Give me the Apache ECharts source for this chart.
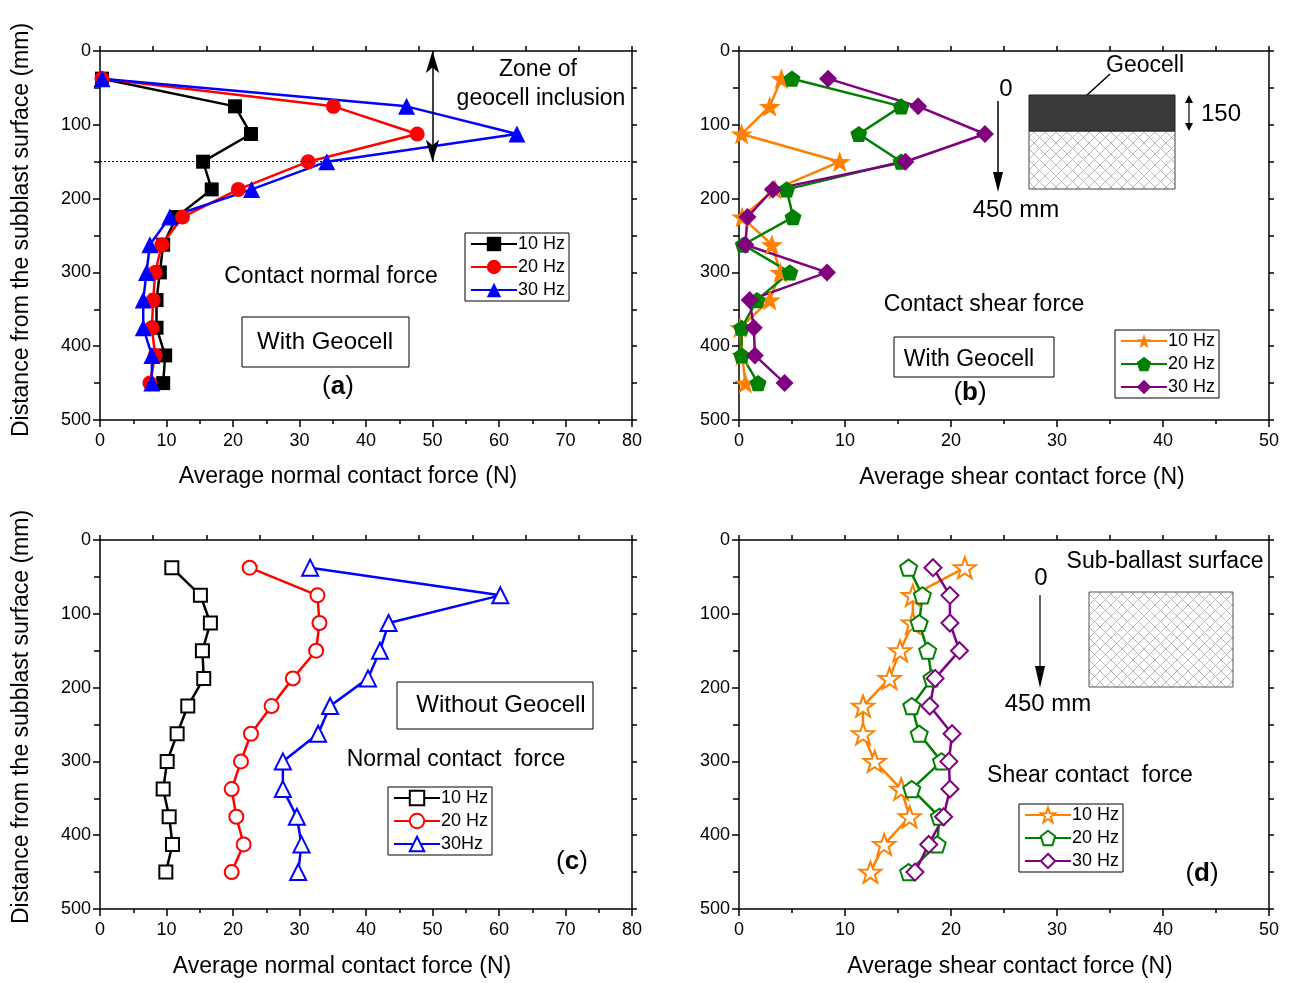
<!DOCTYPE html>
<html><head><meta charset="utf-8">
<script src="https://cdn.jsdelivr.net/npm/echarts@6/dist/echarts.min.js"></script>
<style>html,body{margin:0;padding:0;background:#fff}#c{width:1291px;height:983px}</style>
</head><body><div id="c"></div>
<script>
// ---- data ----
const depths = [37.5, 75, 112.5, 150, 187.5, 225, 262.5, 300, 337.5, 375, 412.5, 450];
const yTicks = ['0','100','200','300','400','500'];
// (a) With geocell, normal force (N)
const a10 = [0.3, 20.3, 22.7, 15.5, 16.8, 11.5, 9.5, 9.0, 8.5, 8.5, 9.8, 9.5];
const a20 = [0.3, 35.1, 47.7, 31.3, 20.8, 12.4, 9.3, 8.3, 8.0, 7.8, 8.3, 7.5];
const a30 = [0.3, 46.1, 62.7, 34.1, 22.8, 10.5, 7.5, 7.0, 6.5, 6.5, 7.8, 7.8];
// (b) With geocell, shear force (N)
const b10 = [4.0, 2.9, 0.25, 9.5, 3.4, 0.3, 3.1, 3.9, 2.9, 0.1, 0.3, 0.6];
const b20 = [5.0, 15.3, 11.3, 15.3, 4.5, 5.1, 0.4, 4.8, 1.7, 0.25, 0.25, 1.8];
const b30 = [8.4, 16.9, 23.2, 15.7, 3.2, 0.8, 0.6, 8.3, 1.0, 1.4, 1.5, 4.3];
// (c) Without geocell, normal force (N)
const c10 = [10.8, 15.1, 16.6, 15.4, 15.6, 13.2, 11.6, 10.1, 9.5, 10.4, 10.9, 9.9];
const c20 = [22.5, 32.7, 33.0, 32.5, 29.0, 25.8, 22.7, 21.2, 19.8, 20.5, 21.6, 19.8];
const c30 = [31.6, 60.2, 43.4, 42.1, 40.3, 34.6, 32.8, 27.5, 27.5, 29.6, 30.3, 29.8];
// (d) Without geocell, shear force (N)
const d10 = [21.3, 16.4, 16.4, 15.2, 14.2, 11.7, 11.7, 12.8, 15.3, 16.1, 13.7, 12.4];
const d20 = [16.0, 17.3, 17.0, 17.8, 18.2, 16.3, 17.0, 19.1, 16.3, 18.9, 18.7, 16.0];
const d30 = [18.3, 19.9, 19.9, 20.8, 18.5, 18.0, 20.1, 19.8, 19.9, 19.3, 17.9, 16.6];
const legendLabels = {a10:'10 Hz', a20:'20 Hz', a30:'30 Hz', b10:'10 Hz', b20:'20 Hz', b30:'30 Hz',
  c10:'10 Hz', c20:'20 Hz', c30:'30Hz', d10:'10 Hz', d20:'20 Hz', d30:'30 Hz'};
const xMax = [80, 50, 80, 50];
const zoneDepth = 150, zoneArrowX = 50;

// ---- layout / style ----
const FONT = 'Liberation Sans, Arial, Helvetica, sans-serif';
const grids = [
  {left:100, top:51, width:532, height:369},
  {left:739, top:51, width:530, height:369},
  {left:100, top:540, width:532, height:369},
  {left:739, top:540, width:530, height:369}
];
const STAR = 'path://M50 0 L61.76 33.82 L97.55 34.55 L69.02 56.18 L79.39 90.45 L50 70 L20.61 90.45 L30.98 56.18 L2.45 34.55 L38.24 33.82 Z';
const PENT = 'path://M50 0 L97.55 34.55 L79.39 90.45 L20.61 90.45 L2.45 34.55 Z';
const axLine = {show:true, onZero:false, lineStyle:{color:'#000', width:1.5}};
const tickStyle = {color:'#000', width:1.5};

const xAxes = [], yAxes = [];
grids.forEach((g, i) => {
  xAxes.push({gridIndex:i, type:'value', min:0, max:xMax[i], interval:10, position:'bottom',
    axisLine:axLine, axisTick:{show:true, length:7, lineStyle:tickStyle},
    minorTick:{show:true, splitNumber:2, length:4, lineStyle:tickStyle},
    axisLabel:{fontSize:18, color:'#000', margin:12, fontFamily:FONT},
    splitLine:{show:false}, minorSplitLine:{show:false}});
  xAxes.push({gridIndex:i, type:'value', min:0, max:xMax[i], interval:xMax[i]/10, position:'top',
    axisLine:axLine, axisTick:{show:true, length:5, lineStyle:tickStyle},
    axisLabel:{show:false}, splitLine:{show:false}});
  yAxes.push({gridIndex:i, type:'value', inverse:true, min:0, max:500, interval:100, position:'left',
    axisLine:axLine, axisTick:{show:true, length:7, lineStyle:tickStyle},
    minorTick:{show:true, splitNumber:2, length:6, lineStyle:tickStyle},
    axisLabel:{fontSize:18, color:'#000', margin:9, fontFamily:FONT,
      formatter:(v)=>yTicks[Math.round(v/100)]},
    splitLine:{show:false}, minorSplitLine:{show:false}});
  yAxes.push({gridIndex:i, type:'value', inverse:true, min:0, max:500, interval:50, position:'right',
    axisLine:axLine, axisTick:{show:true, length:5, lineStyle:tickStyle},
    axisLabel:{show:false}, splitLine:{show:false}});
});

function mk(name, xs, gi, color, symbol, size, hollow, extra) {
  const s = {
    name, type:'line', xAxisIndex:2*gi, yAxisIndex:2*gi,
    data: xs.map((x, k) => [x, depths[k]]),
    symbol, symbolSize:size, symbolKeepAspect:true, showAllSymbol:true,
    lineStyle:{color, width:2.5},
    itemStyle: hollow ? {color:'#fff', borderColor:color, borderWidth:2} : {color, borderWidth:0},
    emphasis:{disabled:true}, animation:false
  };
  return Object.assign(s, extra || {});
}

const series = [
  mk('a10', a10, 0, '#000000', 'rect', 14, false, {markLine:{silent:true, symbol:'none', animation:false,
      label:{show:false}, lineStyle:{type:[2,2], color:'#000', width:1},
      data:[{yAxis:zoneDepth}]}}),
  mk('a20', a20, 0, '#ff0000', 'circle', 15, false, {markLine:{silent:true, symbol:['arrow','arrow'],
      symbolSize:[10,22], animation:false, label:{show:false},
      lineStyle:{type:'solid', color:'#000', width:1.5},
      data:[[{coord:[zoneArrowX, 0]}, {coord:[zoneArrowX, zoneDepth]}]]}}),
  mk('a30', a30, 0, '#0000ff', 'triangle', 17, false),
  mk('b10', b10, 1, '#ff8000', STAR, 22, false),
  mk('b20', b20, 1, '#008000', PENT, 17, false),
  mk('b30', b30, 1, '#800080', 'diamond', 18, false),
  mk('c10', c10, 2, '#000000', 'rect', 13, true),
  mk('c20', c20, 2, '#ff0000', 'circle', 14, true),
  mk('c30', c30, 2, '#0000ff', 'triangle', 16, true),
  mk('d10', d10, 3, '#ff8000', STAR, 22, true),
  mk('d20', d20, 3, '#008000', PENT, 17, true),
  mk('d30', d30, 3, '#800080', 'diamond', 17, true)
];

function legend(names, left, top) {
  return {data:names, left, top, orient:'vertical', padding:[2,4,2,5], itemGap:5,
    itemWidth:46, itemHeight:18, selectedMode:false, borderColor:'#000', borderWidth:1,
    backgroundColor:'#fff', formatter:(n)=>legendLabels[n],
    textStyle:{fontSize:18, color:'#000', fontFamily:FONT, padding:[0,0,0,-4]}};
}

// hatch pattern
const hc = document.createElement('canvas');
hc.width = 11; hc.height = 11;
const hx = hc.getContext('2d');
hx.strokeStyle = '#b8b8b8'; hx.lineWidth = 1;
hx.beginPath(); hx.moveTo(0,0); hx.lineTo(11,11); hx.moveTo(11,0); hx.lineTo(0,11); hx.stroke();
const hatch = {image:hc, repeat:'repeat'};

function txt(text, x, y, size, extra) {
  return Object.assign({type:'text', x, y, z:100, style:Object.assign({text, fontSize:size, fontFamily:FONT,
    fill:'#000', align:'center', verticalAlign:'middle'}, (extra && extra.style) || {})},
    extra && extra.rotation ? {rotation:extra.rotation} : {});
}
function line(x1,y1,x2,y2,w) { return {type:'line', z:100, shape:{x1,y1,x2,y2}, style:{stroke:'#000', lineWidth:w||1.5}}; }
function tri(pts) { return {type:'polygon', z:100, shape:{points:pts}, style:{fill:'#000'}}; }
function box(x,y,w,h,stroke) { return {type:'rect', z:100, shape:{x,y,width:w,height:h}, style:{fill:'none', stroke:stroke||'#000', lineWidth:1}}; }
function label(letter, x, y) {
  return {type:'text', x, y, z:100, style:{text:'({b|'+letter+'})', fontSize:26, fontFamily:FONT, fill:'#000',
    align:'center', verticalAlign:'middle', rich:{b:{fontSize:26, fontWeight:'bold', fontFamily:FONT}}}};
}

const YT = 'Distance from the subblast surface (mm)';
const graphic = [
  txt(YT, 22, 230, 23, {rotation:Math.PI/2}),
  txt(YT, 22, 717, 23, {rotation:Math.PI/2}),
  txt('Average normal contact force (N)', 348, 477, 23),
  txt('Average shear contact force (N)', 1022, 478, 23),
  txt('Average normal contact force (N)', 342, 967, 23),
  txt('Average shear contact force (N)', 1010, 967, 23),
  // (a)
  txt('Zone of', 538, 70, 23),
  txt('geocell inclusion', 541, 99, 23),
  txt('Contact normal force', 331, 277, 23),
  box(242, 317, 167, 50), txt('With Geocell', 325, 342, 24),
  label('a', 338, 387),
  // (b)
  txt('Contact shear force', 984, 305, 23),
  box(894, 337, 160, 40), txt('With Geocell', 969, 360, 23),
  label('b', 970, 393),
  txt('0', 1006, 89, 24),
  line(998, 101, 998, 178, 1.5), tri([[993,172],[1003,172],[998,192]]),
  txt('450 mm', 1016, 210, 24),
  {type:'rect', z:100, shape:{x:1029, y:131, width:146, height:58}, style:{fill:hatch, stroke:'#444', lineWidth:1}},
  {type:'rect', z:101, shape:{x:1029, y:95, width:146, height:36}, style:{fill:'#3a3a3a', stroke:'#222', lineWidth:1}},
  txt('Geocell', 1145, 66, 23),
  line(1110, 74, 1086, 96, 1.5),
  txt('150', 1221, 114, 24),
  line(1189, 100, 1189, 126, 1.2), tri([[1185,103],[1193,103],[1189,95]]), tri([[1185,123],[1193,123],[1189,131]]),
  // (c)
  box(397, 682, 196, 47), txt('Without Geocell', 501, 705, 24),
  txt('Normal contact  force', 456, 760, 23),
  label('c', 572, 862),
  // (d)
  txt('Sub-ballast surface', 1165, 562, 23),
  txt('0', 1041, 578, 24),
  line(1040, 595, 1040, 672, 1.2), tri([[1035,666],[1045,666],[1040,688]]),
  txt('450 mm', 1048, 704, 24),
  {type:'rect', z:100, shape:{x:1089, y:592, width:144, height:95}, style:{fill:hatch, stroke:'#555', lineWidth:1}},
  txt('Shear contact  force', 1090, 776, 23),
  label('d', 1202, 874)
];

const chart = echarts.init(document.getElementById('c'), null, {renderer:'canvas'});
chart.setOption({
  backgroundColor:'#fff', animation:false,
  grid: grids.map(g => Object.assign({containLabel:false, show:false}, g)),
  xAxis: xAxes, yAxis: yAxes, series,
  legend: [
    legend(['a10','a20','a30'], 465, 233),
    legend(['b10','b20','b30'], 1115, 330),
    legend(['c10','c20','c30'], 388, 787),
    legend(['d10','d20','d30'], 1019, 804)
  ],
  graphic
});
</script></body></html>
